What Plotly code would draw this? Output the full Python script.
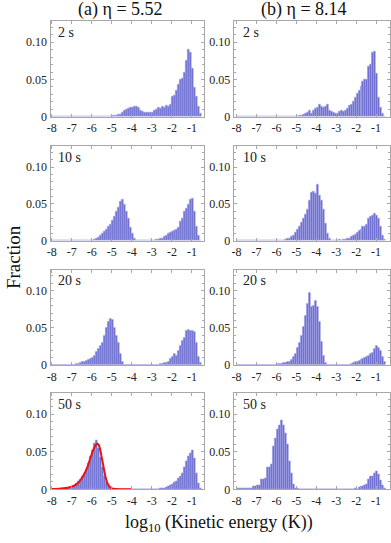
import plotly.graph_objects as go
from plotly.subplots import make_subplots

# Histogram bins: log10(kinetic energy / K), 0.1 wide, from -8 to -0.5
BIN_WIDTH = 0.1
BIN_CENTERS = [round(-7.95 + BIN_WIDTH * i, 2) for i in range(75)]

X_TICKS = [-8, -7, -6, -5, -4, -3, -2, -1]
X_TICK_LABELS = ["-8", "-7", "-6", "-5", "-4", "-3", "-2", "-1"]
Y_TICKS = [0, 0.05, 0.10]
Y_TICK_LABELS = ["0", "0.05", "0.10"]

COLUMN_TITLES = ["(a) η = 5.52", "(b) η = 8.14"]
TIME_LABELS = ["2 s", "10 s", "20 s", "50 s"]

# (a) eta = 5.52  -- one row of 10 bins per decade
A_2S = [
    0, 0, 0, 0, 0, 0, 0, 0, 0, 0,
    0, 0, 0, 0, 0, 0, 0, 0, 0, 0,
    0, 0, 0, 0, 0, 0.0003, 0.0005, 0.0005, 0.001, 0.001,
    0.0012, 0.0015, 0.002, 0.0025, 0.003, 0.006, 0.008, 0.01, 0.011, 0.012,
    0.013, 0.014, 0.014, 0.012, 0.009, 0.007, 0.006, 0.006, 0.006, 0.006,
    0.006, 0.008, 0.01, 0.013, 0.011, 0.014, 0.013, 0.015, 0.014, 0.016,
    0.027, 0.029, 0.036, 0.044, 0.05, 0.052, 0.06, 0.075, 0.091, 0.086,
    0.065, 0.04, 0.028, 0.014, 0.004,
]
A_10S = [
    0, 0, 0, 0, 0, 0, 0, 0, 0, 0,
    0, 0, 0, 0, 0, 0, 0, 0, 0.0003, 0.0005,
    0.001, 0.002, 0.003, 0.005, 0.007, 0.01, 0.013, 0.016, 0.019, 0.022,
    0.028, 0.033, 0.04, 0.045, 0.054, 0.056, 0.05, 0.04, 0.03, 0.018,
    0.01, 0.003, 0.001, 0, 0, 0, 0.0005, 0, 0.0005, 0.0005,
    0.001, 0.001, 0.0015, 0.002, 0.003, 0.004, 0.006, 0.008, 0.01, 0.012,
    0.013, 0.014, 0.015, 0.018, 0.026, 0.031, 0.04, 0.044, 0.05, 0.056,
    0.058, 0.04, 0.02, 0.007, 0.001,
]
A_20S = [
    0, 0, 0, 0, 0.0005, 0.0005, 0.0005, 0.0005, 0.0005, 0.0005,
    0.001, 0.001, 0.002, 0.002, 0.003, 0.004, 0.005, 0.006, 0.007, 0.008,
    0.01, 0.013, 0.018, 0.022, 0.026, 0.03, 0.04, 0.05, 0.058, 0.062,
    0.061, 0.05, 0.04, 0.03, 0.015, 0.005, 0.001, 0, 0, 0,
    0, 0, 0, 0, 0, 0, 0, 0, 0, 0,
    0.0005, 0.0005, 0.001, 0.001, 0.002, 0.002, 0.003, 0.003, 0.005, 0.008,
    0.011, 0.015, 0.013, 0.02, 0.026, 0.033, 0.037, 0.046, 0.047, 0.046,
    0.046, 0.045, 0.03, 0.012, 0.003,
]
A_50S = [
    0, 0, 0.0005, 0.0005, 0.001, 0.001, 0.0015, 0.002, 0.002, 0.003,
    0.004, 0.006, 0.008, 0.011, 0.014, 0.017, 0.021, 0.027, 0.035, 0.044,
    0.052, 0.062, 0.066, 0.055, 0.043, 0.03, 0.018, 0.009, 0.004, 0.001,
    0, 0, 0, 0, 0, 0, 0, 0, 0, 0,
    0, 0, 0, 0, 0, 0, 0, 0, 0, 0,
    0, 0, 0.0005, 0.0005, 0.001, 0.0015, 0.002, 0.003, 0.004, 0.005,
    0.007, 0.009, 0.011, 0.015, 0.018, 0.022, 0.03, 0.037, 0.044, 0.048,
    0.052, 0.042, 0.022, 0.008, 0.002,
]

# (b) eta = 8.14
B_2S = [
    0, 0, 0, 0, 0, 0, 0, 0, 0, 0,
    0, 0, 0, 0, 0, 0, 0, 0, 0, 0,
    0, 0, 0, 0, 0, 0, 0, 0, 0.0003, 0.0005,
    0.001, 0.0015, 0.002, 0.003, 0.004, 0.006, 0.008, 0.005, 0.009, 0.011,
    0.012, 0.017, 0.014, 0.013, 0.014, 0.016, 0.009, 0.007, 0.006, 0.005,
    0.005, 0.007, 0.008, 0.007, 0.009, 0.011, 0.015, 0.017, 0.021, 0.026,
    0.031, 0.036, 0.041, 0.047, 0.05, 0.05, 0.068, 0.07, 0.087, 0.088,
    0.058, 0.026, 0.013, 0.004, 0.001,
]
B_10S = [
    0, 0, 0, 0, 0, 0, 0, 0, 0, 0,
    0, 0, 0, 0, 0, 0, 0, 0, 0, 0,
    0.0005, 0.0005, 0.001, 0.001, 0.002, 0.003, 0.004, 0.006, 0.008, 0.011,
    0.016, 0.02, 0.025, 0.03, 0.036, 0.042, 0.055, 0.066, 0.067, 0.065,
    0.077, 0.062, 0.055, 0.042, 0.024, 0.01, 0.003, 0.001, 0.0005, 0.0005,
    0.001, 0.0015, 0.001, 0.002, 0.002, 0.003, 0.004, 0.006, 0.008, 0.009,
    0.012, 0.014, 0.016, 0.019, 0.02, 0.022, 0.03, 0.033, 0.034, 0.037,
    0.035, 0.03, 0.02, 0.008, 0.002,
]
B_20S = [
    0, 0, 0, 0, 0, 0, 0, 0, 0, 0,
    0, 0, 0, 0, 0, 0.0005, 0.0005, 0.0005, 0.001, 0.001,
    0.0015, 0.002, 0.002, 0.003, 0.003, 0.004, 0.005, 0.007, 0.011, 0.015,
    0.024, 0.03, 0.04, 0.052, 0.066, 0.083, 0.097, 0.079, 0.08, 0.087,
    0.078, 0.058, 0.032, 0.013, 0.003, 0.001, 0.0005, 0.0005, 0.0005, 0.0005,
    0.0005, 0.0005, 0.0005, 0.0005, 0.001, 0.001, 0.001, 0.002, 0.003, 0.004,
    0.005, 0.006, 0.007, 0.008, 0.01, 0.011, 0.013, 0.015, 0.017, 0.022,
    0.026, 0.023, 0.02, 0.012, 0.004,
]
B_50S = [
    0.001, 0.001, 0.001, 0.002, 0.002, 0.002, 0.001, 0.002, 0.004, 0.004,
    0.005, 0.006, 0.013, 0.014, 0.015, 0.029, 0.03, 0.034, 0.058, 0.068,
    0.08, 0.086, 0.092, 0.085, 0.075, 0.06, 0.038, 0.022, 0.007, 0.002,
    0.001, 0, 0, 0, 0, 0, 0, 0, 0, 0,
    0, 0, 0, 0, 0, 0, 0, 0, 0, 0,
    0, 0, 0, 0, 0, 0, 0, 0, 0, 0.002,
    0.0005, 0.003, 0.004, 0.004, 0.005, 0.007, 0.014, 0.017, 0.018, 0.021,
    0.024, 0.02, 0.012, 0.005, 0.001,
]

# red fitted curve over the cold peak, (a) 50 s
FIT_X = [-8.0, -7.5, -7.2, -7.0, -6.8, -6.6, -6.4, -6.2, -6.1, -6.0, -5.9, -5.8,
         -5.72, -5.65, -5.6, -5.5, -5.4, -5.3, -5.2, -5.1, -5.0, -4.8, -4.5, -4.0]
FIT_Y = [0.0003, 0.001, 0.002, 0.0035, 0.006, 0.011, 0.019, 0.031, 0.039, 0.047, 0.054, 0.059,
         0.0605, 0.059, 0.055, 0.042, 0.028, 0.015, 0.007, 0.003, 0.0012, 0.0003, 0.0001, 0]

PANELS = [[A_2S, B_2S], [A_10S, B_10S], [A_20S, B_20S], [A_50S, B_50S]]

BAR_COLOR = "#6b6bd0"
BAR_EDGE = "#a9a9e6"
FRAME = "#a8a8a8"
FONT = "Liberation Serif, Times New Roman, serif"

# pixel layout of the panels (391 x 543 page)
W, H = 391, 543
COL_PX = [(47, 202), (232, 390)]
ROW_PX = [(21.7, 118.3), (148.3, 244.0), (273.3, 370.0), (398.3, 495.7)]
X_RANGES = [[-8.06, -0.4], [-8.15, -0.3]]

fig = make_subplots(rows=4, cols=2)

for r in range(4):
    for c in range(2):
        fig.add_trace(go.Bar(
            x=BIN_CENTERS, y=PANELS[r][c], width=BIN_WIDTH,
            marker=dict(color=BAR_COLOR, line=dict(color=BAR_EDGE, width=0.5)),
            showlegend=False, hoverinfo="skip",
        ), row=r + 1, col=c + 1)

        x0, x1 = COL_PX[c]
        top, bot = ROW_PX[r]
        fig.update_xaxes(
            row=r + 1, col=c + 1,
            domain=[x0 / W, x1 / W], range=X_RANGES[c],
            tickvals=X_TICKS, ticktext=X_TICK_LABELS,
            showgrid=False, zeroline=False, showline=True, mirror="ticks",
            linecolor=FRAME, linewidth=1, ticks="inside", ticklen=3, tickcolor=FRAME,
            tickfont=dict(family=FONT, size=12, color="#222"),
            ticklabeloverflow="allow",
        )
        fig.update_yaxes(
            row=r + 1, col=c + 1,
            domain=[1 - bot / H, 1 - top / H], range=[0, 0.128],
            tickvals=Y_TICKS, ticktext=Y_TICK_LABELS,
            showgrid=False, zeroline=False, showline=True, mirror="ticks",
            linecolor=FRAME, linewidth=1, ticks="inside", ticklen=3, tickcolor=FRAME,
            minor=dict(dtick=0.01, ticks="inside", ticklen=2, tickcolor=FRAME),
            tickfont=dict(family=FONT, size=12, color="#222"),
            ticklabeloverflow="allow", showticklabels=True,
        )
        n = r * 2 + c + 1
        suffix = "" if n == 1 else str(n)
        fig.add_annotation(
            text=TIME_LABELS[r], xref=f"x{suffix} domain", yref=f"y{suffix} domain",
            x=0.037 if c == 0 else 0.05, y=0.885, xanchor="left", yanchor="middle",
            showarrow=False, font=dict(family=FONT, size=14, color="#222"),
        )

fig.add_trace(go.Scatter(
    x=FIT_X, y=FIT_Y, mode="lines", line=dict(color="#ee1111", width=2, shape="spline"),
    showlegend=False, hoverinfo="skip",
), row=4, col=1)

# column titles and shared axis labels
for text, xc in zip(COLUMN_TITLES, [118, 303.5]):
    fig.add_annotation(text=text, xref="paper", yref="paper", x=xc / W, y=1 - 10 / H,
                       xanchor="center", yanchor="middle", showarrow=False,
                       font=dict(family=FONT, size=18, color="#111"))
fig.add_annotation(text="Fraction", xref="paper", yref="paper", x=9.5 / W, y=1 - 260 / H,
                   xanchor="center", yanchor="middle", textangle=-90, showarrow=False,
                   font=dict(family=FONT, size=19, color="#111"))
fig.add_annotation(text="log<sub>10</sub> (Kinetic energy (K))", xref="paper", yref="paper",
                   x=217 / W, y=1 - 530 / H, xanchor="center", yanchor="middle",
                   showarrow=False, font=dict(family=FONT, size=18, color="#111"))

fig.update_layout(
    width=W, height=H, margin=dict(l=0, r=0, t=0, b=0),
    paper_bgcolor="white", plot_bgcolor="white", bargap=0,
)

fig.write_html("out.html", config={"displayModeBar": False},
               post_script="document.body.style.margin='0';"
                           "document.body.style.overflow='hidden';")
